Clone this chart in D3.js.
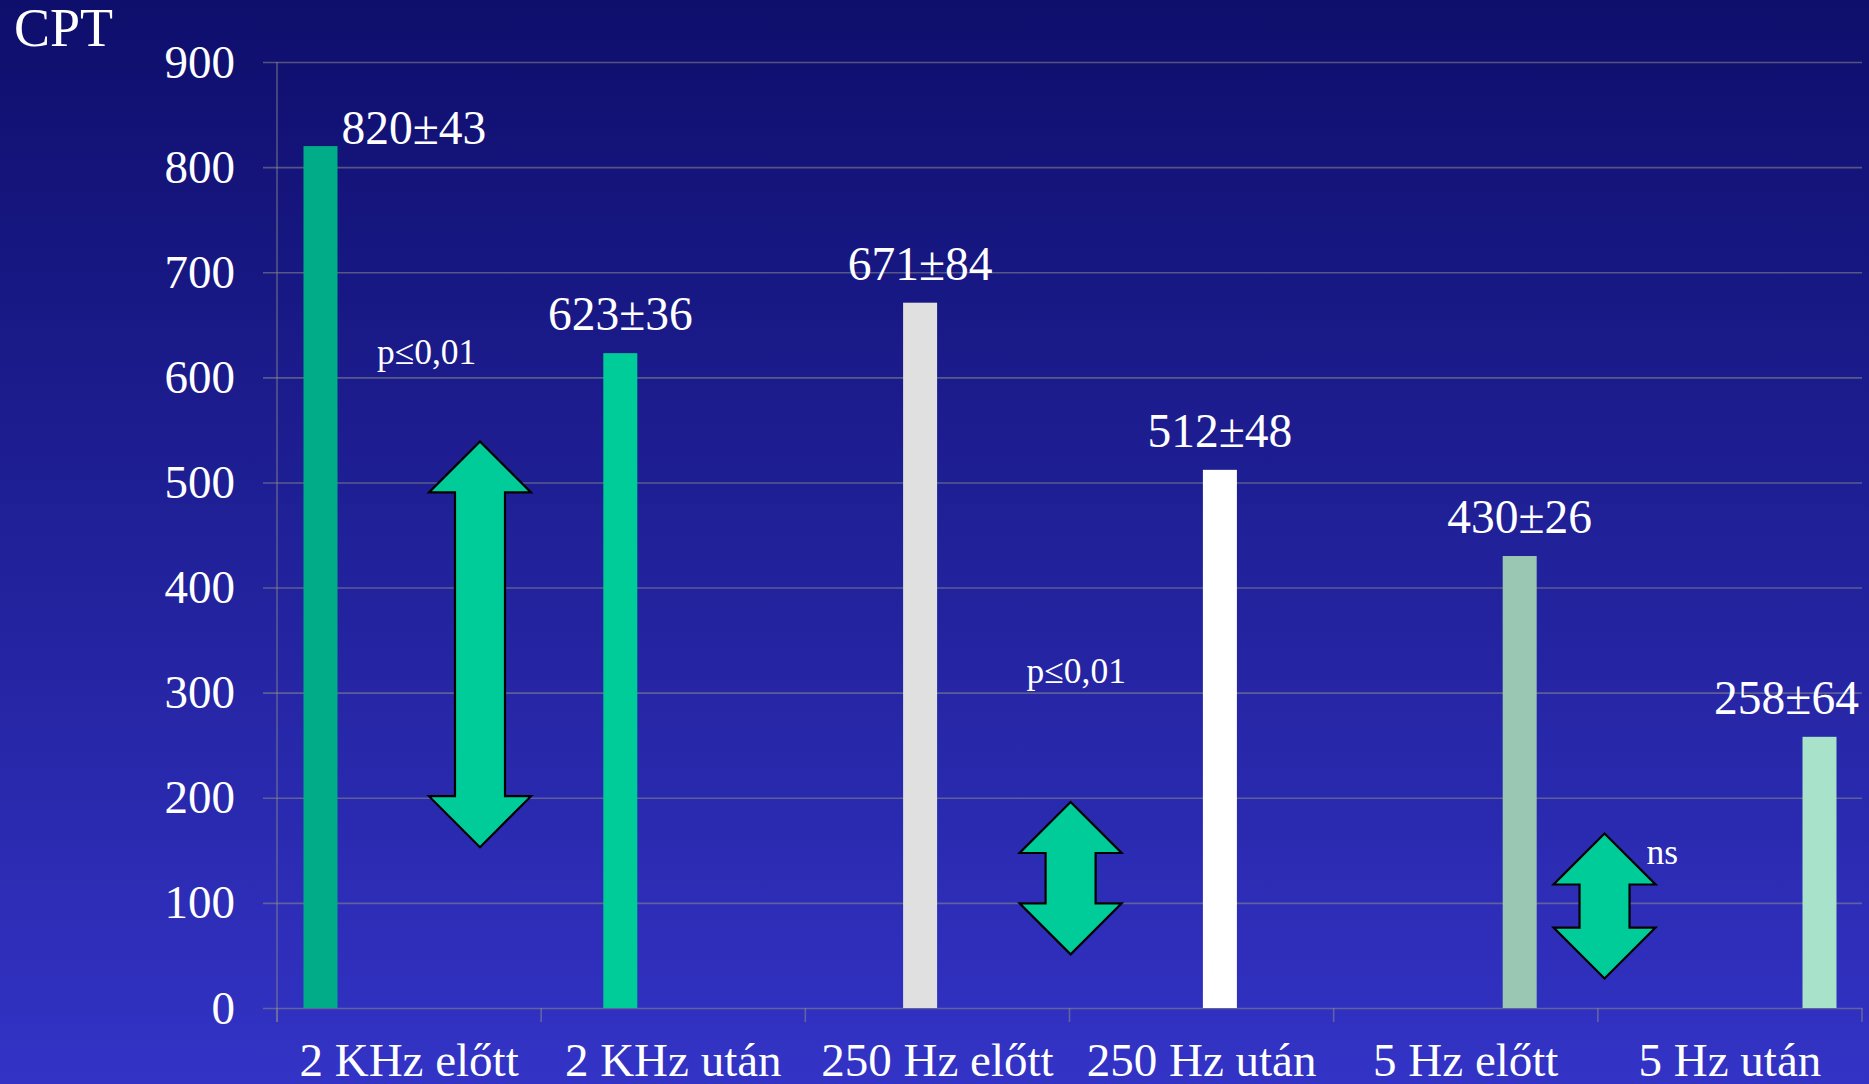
<!DOCTYPE html>
<html>
<head>
<meta charset="utf-8">
<script src="https://cdn.jsdelivr.net/npm/d3@7"></script>
<style>
  body { margin: 0; background: #0e0e6c; }
  text { font-family: "Liberation Serif", "Times New Roman", serif; fill: #fff; }
</style>
</head>
<body>
<div id="chart"></div>
<script>
// data
var categories = ["2 KHz előtt", "2 KHz után", "250 Hz előtt", "250 Hz után", "5 Hz előtt", "5 Hz után"];
var values = [820, 623, 671, 512, 430, 258];
var errors = [43, 36, 84, 48, 26, 64];
var barColors = ["#00ad88", "#00cc99", "#e0e0e0", "#ffffff", "#99c7b3", "#a8e2ca"];
var yTicks = [0, 100, 200, 300, 400, 500, 600, 700, 800, 900];

// comparison arrows: bar-index position, value range, label
var arrowPos = [0.532, 2.502, 4.283];
var arrowTop = [539, 196, 166];
var arrowBottom = [153, 51, 28];
var arrowLabels = ["p≤0,01", "p≤0,01", "ns"];
var arrowLabelValue = [613, 309, 137];

// dimensions
var W = 1869, H = 1084;
var plot = {left: 277, right: 1862, top: 62, bottom: 1008};

var svg = d3.select("#chart")
    .append("svg")
    .attr("width", W)
    .attr("height", H);

// background gradient
var grad = svg.append("defs").append("linearGradient")
    .attr("id", "bg")
    .attr("x1", 0).attr("y1", 0).attr("x2", 0).attr("y2", 1);
grad.append("stop").attr("offset", "0%").attr("stop-color", "#0e0e6c");
grad.append("stop").attr("offset", "100%").attr("stop-color", "#3333c6");
svg.append("rect").attr("width", W).attr("height", H).attr("fill", "url(#bg)");

// scales
var y = d3.scaleLinear()
    .domain([0, 900])
    .range([plot.bottom, plot.top]);

var xBand = d3.scaleBand()
    .domain(categories)
    .range([plot.left, plot.right]);

// bars in this chart sit on their own spacing, not centred in the bands
var xBar = d3.scaleLinear()
    .domain([0, categories.length - 1])
    .range([320.5, 1819.5]);
var barW = 34;

// gridlines (reach 14px left of the axis, acting as y ticks)
var grid = svg.append("g")
    .attr("transform", "translate(" + (plot.left - 14) + ",0)")
    .call(d3.axisLeft(y).tickValues(yTicks).tickSize(-(plot.right - plot.left + 14)).tickFormat(""));
grid.select(".domain").remove();
grid.selectAll("line")
    .attr("stroke", "#8a8a8a")
    .attr("stroke-opacity", 0.55)
    .attr("stroke-width", 1.6);

// y labels
var yAx = svg.append("g")
    .attr("transform", "translate(" + plot.left + ",0)")
    .call(d3.axisLeft(y).tickValues(yTicks).tickSize(0).tickPadding(42));
yAx.select(".domain").remove();
yAx.selectAll("text")
    .style("font-size", "47px")
    .attr("fill", "#fff");

// vertical axis line
svg.append("line")
    .attr("x1", plot.left).attr("x2", plot.left)
    .attr("y1", plot.top).attr("y2", plot.bottom + 14)
    .attr("stroke", "#8a8a8a")
    .attr("stroke-opacity", 0.55)
    .attr("stroke-width", 1.6);

// category boundary ticks
var bounds = categories.map(function(c) { return xBand(c); }).concat([plot.right]);
svg.append("g").selectAll("line")
    .data(bounds)
    .enter().append("line")
    .attr("x1", function(d) { return d; })
    .attr("x2", function(d) { return d; })
    .attr("y1", plot.bottom)
    .attr("y2", plot.bottom + 14)
    .attr("stroke", "#8a8a8a")
    .attr("stroke-opacity", 0.55)
    .attr("stroke-width", 1.6);

// category labels
var xAx = svg.append("g")
    .attr("transform", "translate(0," + plot.bottom + ")")
    .call(d3.axisBottom(xBand).tickSize(0).tickPadding(35));
xAx.select(".domain").remove();
xAx.selectAll("text")
    .style("font-size", "47px")
    .attr("fill", "#fff");

// bars
svg.append("g").selectAll("rect")
    .data(values)
    .enter().append("rect")
    .attr("x", function(d, i) { return xBar(i) - barW / 2; })
    .attr("y", function(d) { return y(d); })
    .attr("width", barW)
    .attr("height", function(d) { return y(0) - y(d); })
    .attr("fill", function(d, i) { return barColors[i]; });

// value labels (first and last nudged like in the slide)
var labelShift = [{dx: 21, dy: -2, anchor: "start"}, {}, {}, {}, {}, {dx: -33}];
svg.append("g").selectAll("text")
    .data(values)
    .enter().append("text")
    .attr("x", function(d, i) { return xBar(i) + (labelShift[i].dx || 0); })
    .attr("y", function(d, i) { return y(d) + (labelShift[i].dy !== undefined ? labelShift[i].dy : -23); })
    .attr("text-anchor", function(d, i) { return labelShift[i].anchor || "middle"; })
    .style("font-size", "47.5px")
    .text(function(d, i) { return d + "±" + errors[i]; });

// double arrows
var headLen = 51, headHalf = 51, shaftHalf = 25;
function arrowPath(cx, yt, yb) {
    return "M" + cx + "," + yt +
        "L" + (cx + headHalf) + "," + (yt + headLen) +
        "L" + (cx + shaftHalf) + "," + (yt + headLen) +
        "L" + (cx + shaftHalf) + "," + (yb - headLen) +
        "L" + (cx + headHalf) + "," + (yb - headLen) +
        "L" + cx + "," + yb +
        "L" + (cx - headHalf) + "," + (yb - headLen) +
        "L" + (cx - shaftHalf) + "," + (yb - headLen) +
        "L" + (cx - shaftHalf) + "," + (yt + headLen) +
        "L" + (cx - headHalf) + "," + (yt + headLen) + "Z";
}
svg.append("g").selectAll("path")
    .data(arrowPos)
    .enter().append("path")
    .attr("d", function(d, i) { return arrowPath(xBar(d), y(arrowTop[i]), y(arrowBottom[i])); })
    .attr("fill", "#00cc99")
    .attr("stroke", "#000")
    .attr("stroke-width", 2.2)
    .attr("stroke-linejoin", "miter");

// significance labels
var sigDx = [-103, -44, 42];
svg.append("g").selectAll("text")
    .data(arrowLabels)
    .enter().append("text")
    .attr("x", function(d, i) { return xBar(arrowPos[i]) + sigDx[i]; })
    .attr("y", function(d, i) { return y(arrowLabelValue[i]); })
    .style("font-size", "35.5px")
    .text(function(d) { return d; });

// axis title
svg.append("text")
    .attr("x", 14)
    .attr("y", 46)
    .style("font-size", "54px")
    .text("CPT");
</script>
</body>
</html>
